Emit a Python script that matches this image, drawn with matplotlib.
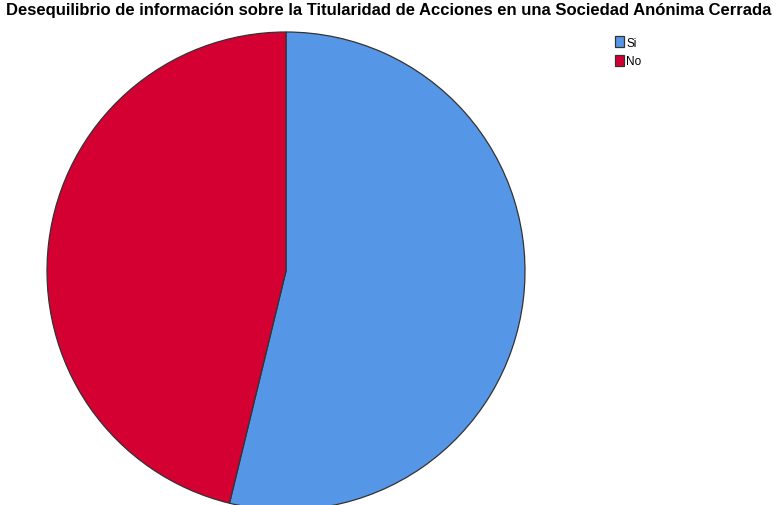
import numpy as np
import matplotlib
matplotlib.use("Agg")
from matplotlib import pyplot as plt

# Datos del gráfico circular (porcentajes)
labels = ['Si', 'No']
values = [53.8, 46.2]
colors = ['#5596e6', '#d50032']

title = 'Desequilibrio de información sobre la Titularidad de Acciones en una Sociedad Anónima Cerrada'

plt.rcParams['font.family'] = ['Liberation Sans', 'DejaVu Sans']

W, H = 777, 506
fig = plt.figure(figsize=(W / 100, H / 100), dpi=100)

# pie placed in pixel units: centre (286, 272), radius 239
cx, cy, r = 286, 272, 239
ax = fig.add_axes([(cx - r) / W, (H - cy - r) / H, 2 * r / W, 2 * r / H])
wedges, _ = ax.pie(values, colors=colors, startangle=90, counterclock=False,
                   radius=1.0,
                   wedgeprops=dict(edgecolor='#333333', linewidth=0.9))
ax.set_xlim(-1, 1)
ax.set_ylim(-1, 1)
ax.set_aspect('equal')
ax.axis('off')
for w in wedges:
    w.set_clip_on(False)

fig.text(0.5, 1 - 11 / H, title, ha='center', va='center',
         fontsize=12, fontweight='bold')

leg = fig.legend(wedges, labels, loc='upper left',
                 bbox_to_anchor=(607 / W, 1 - 29 / H), frameon=False,
                 fontsize=8.5, handlelength=0.75, handleheight=1.05,
                 handletextpad=0.2, labelspacing=0.5, borderpad=0.2)

fig.savefig('out.png', dpi=100)
